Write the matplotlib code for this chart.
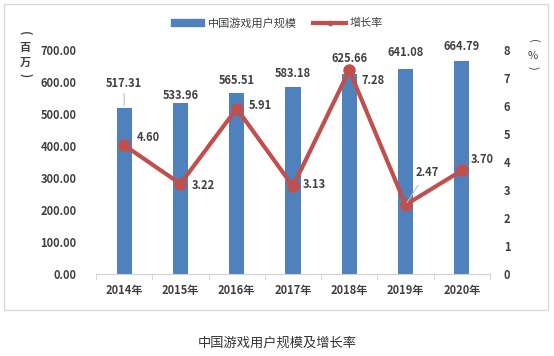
import matplotlib
matplotlib.use("Agg")
import matplotlib.pyplot as plt
from matplotlib.patches import Rectangle
from matplotlib.lines import Line2D

plt.rcParams['font.family'] = ['Noto Sans CJK SC', 'DejaVu Sans']

years = ["2014年", "2015年", "2016年", "2017年", "2018年", "2019年", "2020年"]
users = [517.31, 533.96, 565.51, 583.18, 625.66, 641.08, 664.79]
growth = [4.60, 3.22, 5.91, 3.13, 7.28, 2.47, 3.70]
left_ticks = [0, 100, 200, 300, 400, 500, 600, 700]
right_ticks = [0, 1, 2, 3, 4, 5, 6, 7, 8]

BAR = "#4F81BD"
LINE = "#C0504D"
TXT = "#404040"

fig = plt.figure(figsize=(5.54, 3.56), dpi=100)
W, H = 554, 356
ax = fig.add_axes([96 / W, 1 - 274 / H, (490 - 96) / W, (274 - 50) / H])
ax2 = ax.twinx()

x = list(range(len(years)))
ax.bar(x, users, width=0.27, color=BAR, zorder=2)
ax2.plot(x, growth, color=LINE, lw=3, marker='o', ms=8, zorder=3)

ax.set_xlim(-0.5, len(years) - 0.5)
ax.set_ylim(0, 700)
ax2.set_ylim(0, 8)
ax.set_yticks(left_ticks)
ax.set_yticklabels([f"{v:.2f}" for v in left_ticks])
ax2.set_yticks(right_ticks)
ax2.set_yticklabels([str(v) for v in right_ticks])
ax.set_xticks(x)
ax.set_xticklabels(years)
ax.set_xticks([i + 0.5 for i in range(-1, len(years))], minor=True)

for a in (ax, ax2):
    for s in ('top', 'left', 'right'):
        a.spines[s].set_visible(False)
    a.spines['bottom'].set_color('#d0d0d0')
ax2.spines['bottom'].set_visible(False)

fs = 8
ax.tick_params(axis='y', length=0, labelsize=fs, labelcolor=TXT, pad=14)
ax2.tick_params(axis='y', length=0, labelsize=fs, labelcolor=TXT, pad=10)
ax.tick_params(axis='x', which='major', length=0, labelsize=fs, labelcolor=TXT, pad=7)
ax.tick_params(axis='x', which='minor', length=4, color='#d0d0d0')
for lab in ax.get_yticklabels() + ax2.get_yticklabels() + ax.get_xticklabels():
    lab.set_fontweight('bold')

# bar labels (offsets in pixels from bar top)
bar_offsets = [(0, 25), (0, 8), (0, 13), (0, 14), (0, 15), (0, 16), (0, 15)]
for i, v in enumerate(users):
    dx, dy = bar_offsets[i]
    ax.annotate(f"{v:.2f}", (i, v), xytext=(dx, dy), textcoords='offset pixels',
                ha='center', va='center', fontsize=fs, fontweight='bold', color=TXT, zorder=5)
# leader line for 2014 bar label
ax.annotate("", (0, users[0]), xytext=(0, 18), textcoords='offset pixels',
            arrowprops=dict(arrowstyle='-', color='#bfbfbf', lw=0.8))

# growth labels (offsets in pixels from point)
line_offsets = [(24, 8), (23, -2), (24, 3), (21, 2), (24, -10), (22, 32), (20, 11)]
for i, v in enumerate(growth):
    dx, dy = line_offsets[i]
    ax2.annotate(f"{v:.2f}", (i, v), xytext=(dx, dy), textcoords='offset pixels',
                 ha='center', va='center', fontsize=fs, fontweight='bold', color=TXT, zorder=5)
ax2.annotate("", (5, growth[5]), xytext=(14, 22), textcoords='offset pixels',
             arrowprops=dict(arrowstyle='-', color='#bfbfbf', lw=0.8))

# axis unit labels (vertical writing)
def vlabel(xp, parts, bold):
    for txt, yp, rot in parts:
        fig.text(xp / W, 1 - yp / H, txt, rotation=rot, ha='center', va='center',
                 fontsize=8, fontweight='bold' if bold else 'normal', color=TXT)

vlabel(25, [("(", 33, -90), ("百", 47, 0), ("万", 62, 0), (")", 75, -90)], True)
vlabel(533, [("(", 41, -90), ("%", 56, 0), (")", 68, -90)], False)

# legend
handles = [Rectangle((0, 0), 1, 1, color=BAR), Line2D([], [], color=LINE, lw=3, marker='o', ms=3)]
fig.legend(handles, ["中国游戏用户规模", "增长率"], loc='center', bbox_to_anchor=(0.5, 1 - 23 / H),
           ncol=2, frameon=False, fontsize=8, handlelength=3, handleheight=0.6,
           columnspacing=1.5, handletextpad=0.3, labelcolor=TXT)

# outer frame
fig.patches.append(Rectangle((4 / W, 1 - 310 / H), (548 - 4) / W, (310 - 4) / H,
                             transform=fig.transFigure, fill=False, ec='#d9d9d9', lw=1))

fig.text(277 / W, 1 - 343 / H, "中国游戏用户规模及增长率", ha='center', va='center',
         fontsize=9.5, color='#333333')

fig.savefig("out.png", dpi=100)
